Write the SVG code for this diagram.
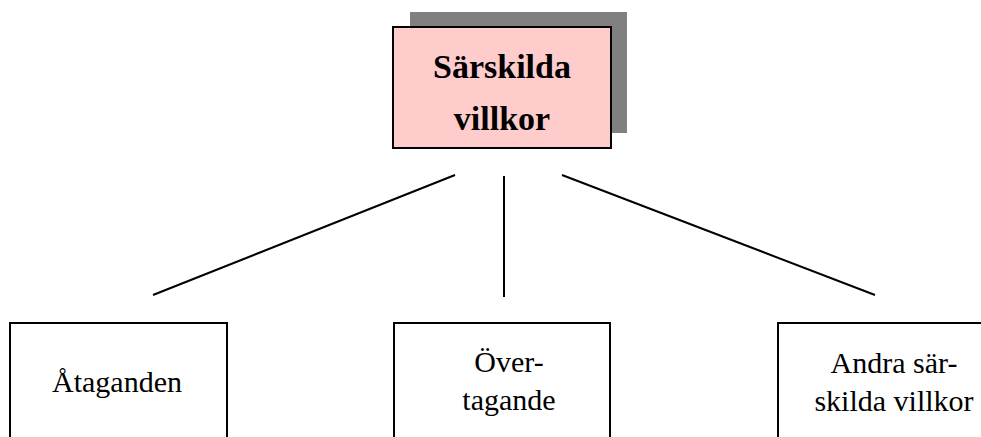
<svg xmlns="http://www.w3.org/2000/svg" width="981" height="437" viewBox="0 0 981 437">
<style>
.box{fill:#ffffff;stroke:#000000;stroke-width:2}
.title{font-family:"Liberation Serif","DejaVu Serif",serif;font-weight:bold;font-size:34px;fill:#000;text-anchor:middle}
.lbl{font-family:"Liberation Serif","DejaVu Serif",serif;font-size:30px;fill:#000;text-anchor:middle}
.conn{stroke:#000;stroke-width:2;fill:none}
</style>
<rect width="981" height="437" fill="#ffffff"/>
<g id="root">
<rect x="410" y="12" width="217" height="121" fill="#808080"/>
<rect x="393" y="27" width="218" height="121" fill="#ffcccc" stroke="#000" stroke-width="2"/>
<text class="title" x="502" y="78">Särskilda</text>
<text class="title" x="502" y="130">villkor</text>
</g>
<g id="connectors">
<line class="conn" x1="455" y1="175" x2="153" y2="295"/>
<line class="conn" x1="504" y1="176" x2="504" y2="297"/>
<line class="conn" x1="562" y1="175" x2="875" y2="295"/>
</g>
<g id="ataganden">
<rect class="box" x="10" y="323" width="217" height="130"/>
<text class="lbl" x="117" y="392">Åtaganden</text>
</g>
<g id="overtagande">
<rect class="box" x="394" y="323" width="216" height="130"/>
<text class="lbl" x="509" y="372">Över-</text>
<text class="lbl" x="509" y="410">tagande</text>
</g>
<g id="andra">
<rect class="box" x="778" y="323" width="220" height="130"/>
<text class="lbl" x="894" y="373">Andra sär-</text>
<text class="lbl" x="894" y="411">skilda villkor</text>
</g>
</svg>
